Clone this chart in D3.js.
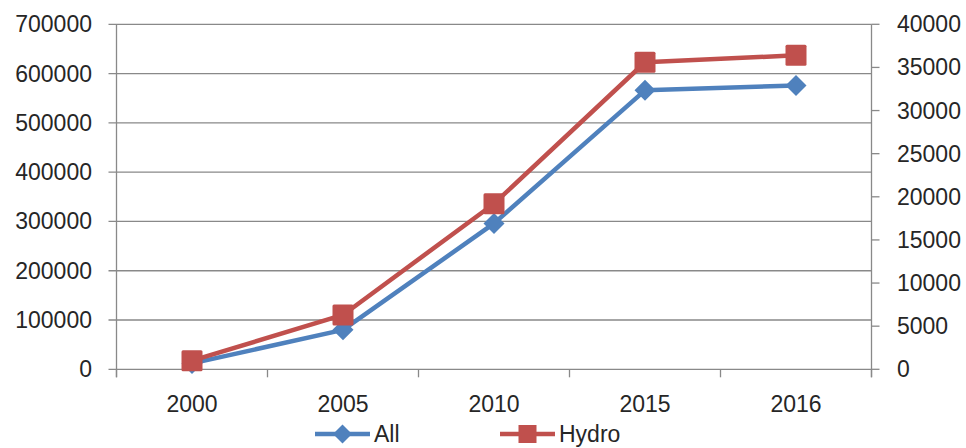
<!DOCTYPE html>
<html>
<head>
<meta charset="utf-8">
<script src="https://cdn.jsdelivr.net/npm/d3@7/dist/d3.min.js"></script>
<style>
  html, body { margin: 0; padding: 0; background: #ffffff; }
  svg { display: block; }
  text { font-family: "Liberation Sans", Arial, sans-serif; fill: #262626; }
</style>
</head>
<body>
<svg id="chart" width="966" height="448"></svg>
<script>
// Categories and series
const years = ["2000", "2005", "2010", "2015", "2016"];
const allValues = [12000, 80000, 296000, 566000, 576000];   // left axis
const hydroValues = [1000, 6300, 19200, 35600, 36400];      // right axis
const leftTicks = [0, 100000, 200000, 300000, 400000, 500000, 600000, 700000];
const rightTicks = [0, 5000, 10000, 15000, 20000, 25000, 30000, 35000, 40000];
const seriesNames = ["All", "Hydro"];

const blue = "#4f81bd", red = "#c0504d", axisGrey = "#898989";
const fontSize = 23;

const svg = d3.select("#chart");
const plotLeft = 116.5, plotRight = 871.5, plotTop = 24.3, plotBottom = 369.3;

const x = d3.scaleBand().domain(years).range([plotLeft, plotRight]).paddingInner(0).paddingOuter(0);
const yL = d3.scaleLinear().domain([0, 700000]).range([plotBottom, plotTop]);
const yR = d3.scaleLinear().domain([0, 40000]).range([plotBottom, plotTop]);

// Horizontal gridlines from the left axis
svg.append("g").selectAll("line").data(leftTicks).join("line")
  .attr("x1", plotLeft - 8).attr("x2", plotRight)
  .attr("y1", d => yL(d)).attr("y2", d => yL(d))
  .attr("stroke", axisGrey).attr("stroke-width", 1.3);

// Left axis labels
svg.append("g").selectAll("text").data(leftTicks).join("text")
  .attr("x", 92).attr("y", d => yL(d)).attr("dy", "0.35em")
  .attr("text-anchor", "end").attr("font-size", fontSize)
  .text(d => d);

// Left & right axis lines
[plotLeft, plotRight].forEach(xx => {
  svg.append("line").attr("x1", xx).attr("x2", xx)
    .attr("y1", plotTop).attr("y2", plotBottom + 8)
    .attr("stroke", axisGrey).attr("stroke-width", 1.3);
});

// Right axis ticks and labels
svg.append("g").selectAll("line").data(rightTicks).join("line")
  .attr("x1", plotRight).attr("x2", plotRight + 8)
  .attr("y1", d => yR(d)).attr("y2", d => yR(d))
  .attr("stroke", axisGrey).attr("stroke-width", 1.3);
svg.append("g").selectAll("text").data(rightTicks).join("text")
  .attr("x", 897).attr("y", d => yR(d)).attr("dy", "0.35em")
  .attr("text-anchor", "start").attr("font-size", fontSize)
  .text(d => d);

// Category boundary ticks below the baseline
const bounds = years.map(y => x(y)).concat([plotRight]);
svg.append("g").selectAll("line").data(bounds).join("line")
  .attr("x1", d => d).attr("x2", d => d)
  .attr("y1", plotBottom).attr("y2", plotBottom + 8)
  .attr("stroke", axisGrey).attr("stroke-width", 1.3);

// Category labels
svg.append("g").selectAll("text").data(years).join("text")
  .attr("x", d => x(d) + x.bandwidth() / 2).attr("y", 404).attr("dy", "0.35em")
  .attr("text-anchor", "middle").attr("font-size", fontSize)
  .text(d => d);

const cx = d => x(d) + x.bandwidth() / 2;

// All series (left axis)
const allData = years.map((yr, i) => ({ yr, v: allValues[i] }));
svg.append("path").datum(allData)
  .attr("d", d3.line().x(d => cx(d.yr)).y(d => yL(d.v)))
  .attr("fill", "none").attr("stroke", blue).attr("stroke-width", 4.5)
  .attr("stroke-linejoin", "round");
const diamond = s => `M0,${-s}L${s},0L0,${s}L${-s},0Z`;
svg.append("g").selectAll("path").data(allData).join("path")
  .attr("d", diamond(10.5))
  .attr("transform", d => `translate(${cx(d.yr)},${yL(d.v)})`)
  .attr("fill", blue);

// Hydro series (right axis)
const hydroData = years.map((yr, i) => ({ yr, v: hydroValues[i] }));
svg.append("path").datum(hydroData)
  .attr("d", d3.line().x(d => cx(d.yr)).y(d => yR(d.v)))
  .attr("fill", "none").attr("stroke", red).attr("stroke-width", 4.5)
  .attr("stroke-linejoin", "round");
svg.append("g").selectAll("rect").data(hydroData).join("rect")
  .attr("x", d => cx(d.yr) - 10.5).attr("y", d => yR(d.v) - 10.5)
  .attr("width", 21).attr("height", 21).attr("rx", 1.5)
  .attr("fill", red);

// Legend
const legend = svg.append("g");
const legendItems = [
  { name: seriesNames[0], color: blue, x0: 315, shape: "diamond" },
  { name: seriesNames[1], color: red, x0: 500, shape: "square" }
];
const ly = 434;
legendItems.forEach(it => {
  legend.append("line").attr("x1", it.x0).attr("x2", it.x0 + 55)
    .attr("y1", ly).attr("y2", ly).attr("stroke", it.color).attr("stroke-width", 4.5);
  const mx = it.x0 + 27.5;
  if (it.shape === "diamond") {
    legend.append("path").attr("d", diamond(9.5))
      .attr("transform", `translate(${mx},${ly})`).attr("fill", it.color);
  } else {
    legend.append("rect").attr("x", mx - 9).attr("y", ly - 9)
      .attr("width", 18).attr("height", 18).attr("fill", it.color);
  }
  legend.append("text").attr("x", it.x0 + 59).attr("y", ly).attr("dy", "0.35em")
    .attr("font-size", fontSize).text(it.name);
});
</script>
</body>
</html>
